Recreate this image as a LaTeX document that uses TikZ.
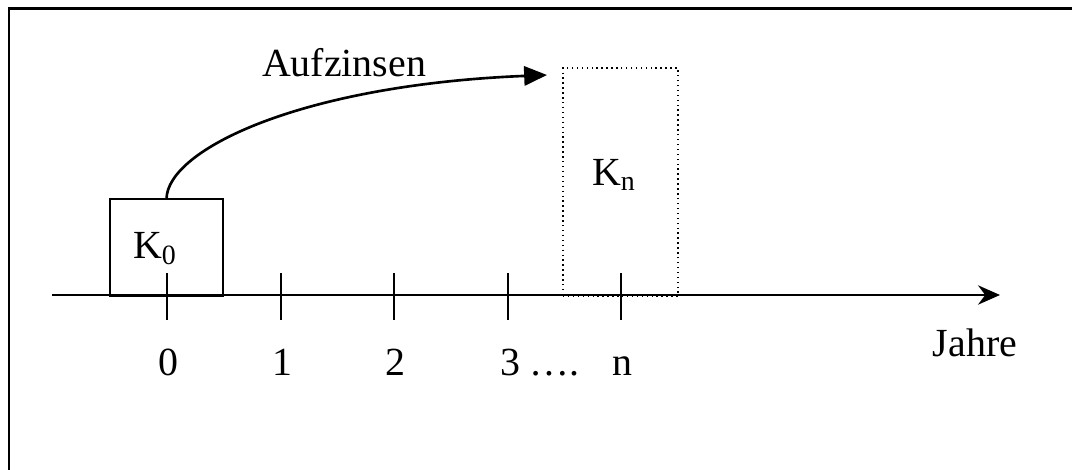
\documentclass[tikz,border=0pt]{standalone}
\usepackage{fontspec}
\setmainfont{Liberation Serif}
\usetikzlibrary{arrows.meta,positioning}

\begin{document}
\begin{tikzpicture}[x=0.02cm,y=-0.02cm,
  every node/.style={font=\fontsize{22.7}{27}\selectfont,inner sep=0pt,outer sep=0pt},
  frame/.style={line width=1.7pt},
  axis/.style={line width=1.3pt,-{Stealth[length=12.5pt,width=11pt]}},
  tick/.style={line width=0.8pt},
  box/.style={draw,line width=0.8pt,minimum width=2.26cm,minimum height=1.94cm},
  dotbox/.style={draw,line width=0.8pt,dash pattern=on 0.8pt off 2pt,minimum width=2.3cm,minimum height=4.56cm},
  arr/.style={line width=1.5pt,-{Triangle[length=13pt,width=11pt]}}]
\useasboundingbox (0,0) rectangle (1072,470);
% frame, only top and left edge are visible
\draw[frame] (1072,8.5) -- (9,8.5) -- (9,470);
% time axis
\coordinate (ax0) at (52,295);
\coordinate (ax1) at (1000,295);
\draw[axis] (ax0) -- (ax1);
\foreach \x/\lab/\nm in {167/0/t0,281/1/t1,394/2/t2,621/n/tn}{
  \draw[tick] (\x,273) -- (\x,320);
  \node[anchor=base] (\nm) at (\x+1,375) {\lab};
}
\draw[tick] (508,273) -- (508,320);
\node[anchor=base west] (t3) at (500,375) {3 ….};
\node[anchor=base] (jahre) at (975,356) {Jahre};
% capital boxes
\node[box] (k0) at (166.5,247.5) {};
\node[anchor=base west] (k0lab) at (133,258) {K\textsubscript{0}};
\node[dotbox] (kn) at (620.5,182) {};
\node[anchor=base west] (knlab) at (592,185) {K\textsubscript{n}};
% compounding arrow
\coordinate (tip) at (547,75);
\draw[arr] (k0.north) .. controls (167,150) and (300,85) .. (tip);
\node[anchor=base] (auf) at (344,76) {Aufzinsen};
\end{tikzpicture}
\end{document}
